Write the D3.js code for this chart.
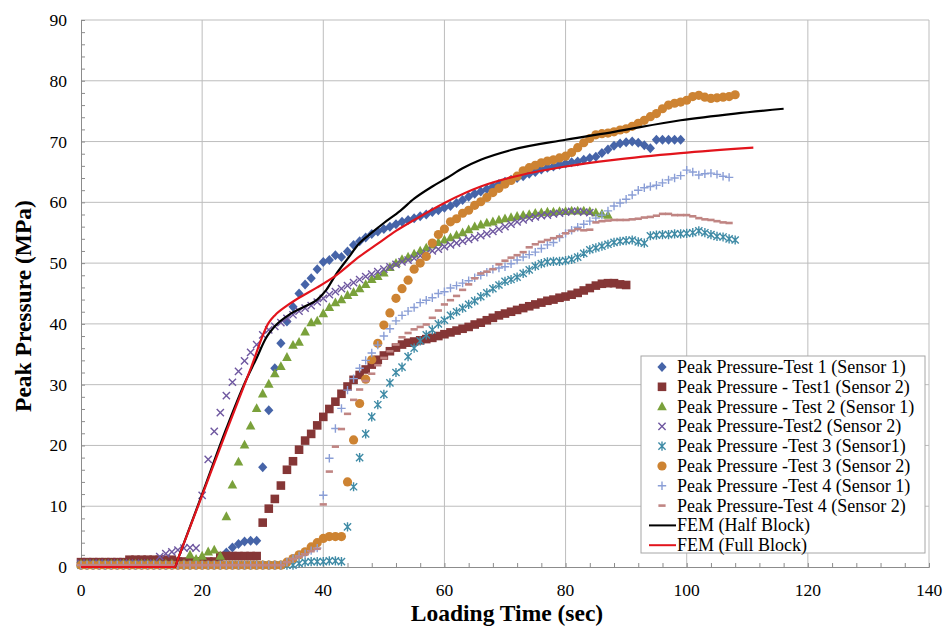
<!DOCTYPE html>
<html lang="en">
<head>
<meta charset="utf-8">
<title>Peak Pressure vs Loading Time</title>
<script src="https://d3js.org/d3.v7.min.js"></script>
<style>
  body { margin: 0; background: #fff; }
  svg { display: block; font-family: "Liberation Serif", "Times New Roman", serif; }
  .grid line { stroke: #bdbdbd; stroke-width: 1; }
  .tick-label { font-size: 17.5px; fill: #000; }
  .axis-title { font-size: 23.5px; font-weight: bold; fill: #000; }
  .legend text { font-size: 18px; fill: #000; }
</style>
</head>
<body>
<svg width="946" height="628"></svg>
<script>
// sampling step of the measured series (sec)
var timeStep = 1;

var xTicks = [0, 20, 40, 60, 80, 100, 120, 140];
var yTicks = [0, 10, 20, 30, 40, 50, 60, 70, 80, 90];

// Peak Pressure-Test 1 (Sensor 1), t = 0..99
var test1Sensor1 = [
  0.7,0.7,0.7,0.7,0.7,0.7,0.7,0.7,0.7,0.7,
  0.7,0.7,0.7,0.7,0.7,0.7,0.7,0.7,0.7,0.7,
  0.7,0.7,0.7,1.5,2.4,3.2,3.8,4.2,4.3,4.3,
  16.4,25.8,32.7,36.8,40.4,42.8,45.0,46.5,47.5,49.0,
  50.2,50.5,51.3,51.0,51.9,53.0,53.6,54.2,54.8,55.2,
  55.6,56.0,56.4,56.8,57.1,57.4,57.7,58.0,58.4,58.7,
  59.1,59.4,59.9,60.4,60.9,61.4,61.8,62.2,62.6,63.0,
  63.4,63.7,64.0,64.3,64.7,65.0,65.4,65.7,65.9,66.2,
  66.4,66.6,66.7,67.0,67.3,67.5,68.1,68.7,69.3,69.7,
  69.9,70.0,69.8,69.4,68.9,70.3,70.3,70.3,70.3,70.3
];

// Peak Pressure - Test1 (Sensor 2), t = 0..90
var test1Sensor2 = [
  0.8,0.8,0.8,0.8,0.8,0.8,0.8,0.8,1.2,1.2,
  1.2,1.2,1.2,1.2,1.2,1.2,0.9,0.9,0.9,0.9,
  0.9,0.9,0.9,1.8,1.8,1.8,1.8,1.8,1.8,1.8,
  7.3,9.6,11.2,13.4,16.0,17.4,19.3,20.8,21.9,23.3,
  24.7,26.0,27.2,28.5,29.7,30.8,31.6,32.5,33.3,34.1,
  34.8,35.5,36.1,36.6,36.9,37.1,37.3,37.5,37.7,38.0,
  38.3,38.6,38.9,39.2,39.5,39.9,40.2,40.6,41.0,41.4,
  41.7,42.0,42.3,42.6,42.9,43.2,43.5,43.8,44.0,44.3,
  44.5,44.8,45.1,45.5,45.9,46.3,46.6,46.7,46.7,46.5,
  46.4
];

// Peak Pressure - Test 2 (Sensor 1), t = 0..87
var test2Sensor1 = [
  0.5,0.5,0.5,0.5,0.5,0.5,0.5,0.5,0.5,0.5,
  0.5,0.5,0.5,0.5,0.5,0.5,0.5,0.5,2.0,1.3,
  1.8,2.5,2.8,1.8,8.3,13.5,17.3,20.1,23.2,26.1,
  28.5,30.1,31.8,33.0,34.5,36.5,37.0,38.7,40.2,40.5,
  41.7,42.7,43.5,44.0,44.7,45.2,45.8,46.5,47.3,47.8,
  48.4,49.3,50.0,50.6,51.0,51.5,52.0,52.5,53.0,53.4,
  53.8,54.2,54.6,55.0,55.5,56.0,56.3,56.6,56.8,57.1,
  57.3,57.5,57.7,57.9,58.0,58.2,58.3,58.4,58.4,58.5,
  58.5,58.6,58.6,58.6,58.5,58.3,58.1,57.9
];

// Peak Pressure-Test2 (Sensor 2), t = 0..84
var test2Sensor2 = [
  0.6,0.6,0.6,0.6,0.6,0.6,0.6,0.6,0.6,0.6,
  0.6,0.6,0.6,1.7,2.2,2.5,2.8,3.1,3.2,3.1,
  11.8,17.7,22.3,25.4,28.2,30.4,32.2,33.9,35.3,36.6,
  38.2,39.0,39.6,40.2,40.9,41.5,42.1,42.6,43.0,43.6,
  44.2,44.8,45.3,45.8,46.3,46.8,47.3,47.8,48.2,48.6,
  49.0,49.4,49.8,50.2,50.5,50.8,51.2,51.6,52.0,52.3,
  52.7,53.0,53.3,53.6,53.9,54.2,54.5,54.8,55.2,55.6,
  56.0,56.4,56.8,57.1,57.4,57.6,57.8,57.9,58.1,58.2,
  58.4,58.5,58.5,58.4,58.3
];

// Peak Pressure -Test 3 (Sensor1), t = 0..108
var test3Sensor1 = [
  0.3,0.3,0.3,0.3,0.3,0.3,0.3,0.3,0.3,0.3,
  0.3,0.3,0.3,0.3,0.3,0.3,0.3,0.3,0.3,0.3,
  0.3,0.3,0.3,0.3,0.3,0.3,0.3,0.3,0.3,0.3,
  0.3,0.3,0.3,0.3,0.3,0.3,0.6,0.8,0.9,0.9,
  0.9,1.0,1.0,0.9,6.6,13.2,18.0,21.9,24.7,26.7,
  28.4,30.3,32.0,32.9,34.6,36.0,37.2,38.2,39.0,40.0,
  40.6,41.4,42.0,42.6,43.2,43.8,44.5,45.1,45.8,46.4,
  47.0,47.3,47.7,48.3,48.9,49.5,49.9,50.2,50.3,50.3,
  50.4,50.6,51.0,51.6,52.2,52.5,52.8,53.1,53.4,53.6,
  53.7,53.8,53.5,53.3,54.5,54.6,54.7,54.7,54.8,54.8,
  54.9,55.0,55.3,55.0,54.7,54.4,54.3,54.0,53.8
];

// Peak Pressure -Test 3 (Sensor 2), t = 0..108
var test3Sensor2 = [
  0.3,0.3,0.3,0.3,0.3,0.3,0.3,0.3,0.3,0.3,
  0.3,0.3,0.3,0.3,0.3,0.3,0.3,0.3,0.3,0.3,
  0.3,0.3,0.3,0.3,0.3,0.3,0.3,0.3,0.3,0.3,
  0.3,0.3,0.3,0.3,0.8,1.4,2.0,2.5,3.3,4.0,
  4.7,5.0,5.0,5.0,14.0,20.9,26.9,30.9,34.1,36.8,
  39.8,41.8,44.2,45.8,47.2,49.0,50.0,51.1,53.3,54.7,
  55.6,56.8,57.3,58.2,58.7,59.5,60.1,60.8,61.6,62.3,
  63.0,63.6,64.3,65.2,65.7,66.1,66.5,66.8,67.0,67.3,
  67.6,68.2,69.0,69.8,70.5,71.1,71.3,71.4,71.6,71.9,
  72.1,72.5,73.0,73.5,74.1,74.6,75.4,76.0,76.3,76.5,
  76.8,77.4,77.6,77.3,77.1,77.2,77.3,77.4,77.7
];

// Peak Pressure -Test 4 (Sensor 1), t = 0..107
var test4Sensor1 = [
  0.3,0.3,0.3,0.3,0.3,0.3,0.3,0.3,0.3,0.3,
  0.3,0.3,0.3,0.3,0.3,0.3,0.3,0.3,0.3,0.3,
  0.3,0.3,0.3,0.3,0.3,0.3,0.3,0.3,0.3,0.3,
  0.3,0.3,0.3,0.3,0.8,1.4,1.8,2.2,2.7,3.1,
  11.8,17.9,22.8,26.1,29.1,31.0,32.7,34.0,35.2,36.5,
  38.0,39.2,40.5,41.4,42.1,42.7,43.5,43.9,44.3,45.0,
  45.3,45.9,46.3,46.7,47.1,47.6,48.0,48.5,49.0,49.2,
  49.4,49.9,50.5,51.0,51.4,51.8,52.4,53.0,53.4,54.2,
  54.9,55.4,55.9,56.4,56.9,57.4,57.9,58.6,59.4,59.9,
  60.5,61.2,62.0,62.4,62.6,62.8,63.2,63.7,64.0,64.4,
  65.3,65.0,64.5,64.7,64.8,64.6,64.3,64.1
];

// Peak Pressure-Test 4 (Sensor 2), t = 0..107
var test4Sensor2 = [
  0.3,0.3,0.3,0.3,0.3,0.3,0.3,0.3,0.3,0.3,
  0.3,0.3,0.3,0.3,0.3,0.3,0.3,0.3,0.3,0.3,
  0.3,0.3,0.3,0.3,0.3,0.3,0.3,0.3,0.3,0.3,
  0.3,0.3,0.3,0.3,0.8,1.3,1.7,2.1,2.6,3.0,
  10.3,15.7,19.8,22.7,25.2,27.5,29.2,30.6,31.8,33.2,
  34.4,35.5,36.6,37.8,38.5,39.1,39.5,39.9,41.0,42.2,
  43.2,43.9,44.6,45.6,46.5,47.5,48.3,48.6,49.0,49.8,
  50.4,50.9,51.3,51.8,52.6,53.1,53.5,53.8,54.1,54.4,
  54.9,55.3,55.6,55.4,55.5,56.7,56.9,57.0,57.1,57.1,
  57.1,57.2,57.3,57.5,57.6,57.8,58.1,58.1,57.9,57.9,
  57.9,57.7,57.4,57.2,57.1,56.9,56.7,56.6
];

// FEM curves: [time, pressure]
var femHalfBlock = [
  [0,0],[15.5,0],[16,1.3],[20,12.0],[24,22.8],[27,30.2],[29,34.4],[30.5,37.6],[32,39.6],
  [34.5,41.6],[37,42.9],[39,44.0],[40.5,45.6],[42,48.0],[44,50.7],[46,53.3],[48,55.0],
  [50,56.6],[52.7,58.6],[55,60.6],[58,62.6],[60.4,64.0],[63,65.6],[66,67.0],[71,68.6],
  [80,70.3],[88,71.6],[99,73.5],[108,74.6],[116,75.4]
];
var femFullBlock = [
  [0,0],[15.5,0],[16,1.3],[20,11.8],[24,22.3],[28,32.6],[31,40.2],[32,41.4],[34,43.0],
  [36,44.3],[39,46.0],[42,47.9],[46,51.1],[49,53.2],[52,55.3],[55,57.1],[60,59.9],
  [66,62.6],[71,64.1],[80,65.9],[88,67.0],[99,68.1],[111,69.0]
];

var svg = d3.select("svg");
var x = d3.scaleLinear().domain([0, 140]).range([81, 929]);
var y = d3.scaleLinear().domain([0, 90]).range([567, 20]);

// grid
var grid = svg.append("g").attr("class", "grid");
grid.selectAll(".gx").data(xTicks.slice(1)).join("line")
    .attr("x1", function(d) { return x(d); }).attr("x2", function(d) { return x(d); })
    .attr("y1", y(0)).attr("y2", y(90));
grid.selectAll(".gy").data(yTicks.slice(1)).join("line")
    .attr("x1", x(0)).attr("x2", x(140))
    .attr("y1", function(d) { return y(d); }).attr("y2", function(d) { return y(d); });

// axes (ticks inside, minor ticks)
var axisX = svg.append("g").attr("transform", "translate(0," + y(0) + ")")
    .call(d3.axisBottom(x).tickValues(d3.range(0, 141, 4)).tickSize(-4).tickFormat(""));
var axisY = svg.append("g").attr("transform", "translate(" + x(0) + ",0)")
    .call(d3.axisLeft(y).tickValues(d3.range(0, 91, 2)).tickSize(-4).tickFormat(""));
[axisX, axisY].forEach(function(a) {
  a.select(".domain").attr("stroke", "#8c8c8c");
  a.selectAll(".tick line").attr("stroke", "#8c8c8c");
});

svg.selectAll(".xl").data(xTicks).join("text")
    .attr("class", "tick-label")
    .attr("x", function(d) { return x(d); })
    .attr("y", 596)
    .attr("text-anchor", "middle")
    .text(function(d) { return d; });
svg.selectAll(".yl").data(yTicks).join("text")
    .attr("class", "tick-label")
    .attr("x", 67)
    .attr("y", function(d) { return y(d) + 6; })
    .attr("text-anchor", "end")
    .text(function(d) { return d; });

svg.append("text").attr("class", "axis-title")
    .attr("x", 507).attr("y", 621).attr("text-anchor", "middle")
    .text("Loading Time (sec)");
svg.append("text").attr("class", "axis-title")
    .attr("transform", "translate(31,306) rotate(-90)")
    .attr("text-anchor", "middle")
    .text("Peak Pressure (MPa)");

// marker shapes
var shapes = {
  diamond:  { d: "M0,-5L4.6,0L0,5L-4.6,0Z", fill: true },
  square:   { d: "M-4.3,-4.3h8.6v8.6h-8.6Z", fill: true },
  triangle: { d: "M0,-5.2L4.8,3.6H-4.8Z", fill: true },
  cross:    { d: "M-3.6,-3.6L3.6,3.6M-3.6,3.6L3.6,-3.6", fill: false },
  star:     { d: "M-3.6,-3.6L3.6,3.6M-3.6,3.6L3.6,-3.6M0,-4.6V4.6", fill: false },
  circle:   { d: "M4.6,0A4.6,4.6 0 1,1 -4.6,0A4.6,4.6 0 1,1 4.6,0Z", fill: true },
  plus:     { d: "M-4.2,0H4.2M0,-4.2V4.2", fill: false },
  dash:     { d: "M-3.6,-1.3h7.2v2.6h-7.2Z", fill: true }
};

var seriesList = [
  { name: "Peak Pressure-Test 1 (Sensor 1)",         values: test1Sensor1, shape: "diamond",  color: "#4664a8" },
  { name: "Peak Pressure - Test1 (Sensor 2)",        values: test1Sensor2, shape: "square",   color: "#853636" },
  { name: "Peak Pressure - Test 2 (Sensor 1)",       values: test2Sensor1, shape: "triangle", color: "#7aa13b" },
  { name: "Peak Pressure-Test2 (Sensor 2)",          values: test2Sensor2, shape: "cross",    color: "#6f58a0" },
  { name: "Peak Pressure -Test 3 (Sensor1)",         values: test3Sensor1, shape: "star",     color: "#3f8ba6" },
  { name: "Peak Pressure -Test 3 (Sensor 2)",        values: test3Sensor2, shape: "circle",   color: "#cd8332" },
  { name: "Peak Pressure -Test 4 (Sensor 1)",        values: test4Sensor1, shape: "plus",     color: "#8a9ed6" },
  { name: "Peak Pressure-Test 4 (Sensor 2)",         values: test4Sensor2, shape: "dash",     color: "#c08583" }
];

function styleMarker(sel, s) {
  var sh = shapes[s.shape];
  sel.attr("d", sh.d)
     .attr("fill", sh.fill ? s.color : "none")
     .attr("stroke", sh.fill ? "none" : s.color)
     .attr("stroke-width", sh.fill ? 0 : 1.4);
}

var plot = svg.append("g");
seriesList.forEach(function(s) {
  var pts = s.values.map(function(v, i) { return [i * timeStep, v]; });
  plot.append("g").selectAll("path").data(pts).join("path")
      .attr("transform", function(d) { return "translate(" + x(d[0]) + "," + y(d[1]) + ")"; })
      .call(styleMarker, s);
});

var line = d3.line()
    .curve(d3.curveMonotoneX)
    .x(function(d) { return x(d[0]); })
    .y(function(d) { return y(d[1]); });

var femLines = [
  { name: "FEM (Half Block)", values: femHalfBlock, color: "#000000" },
  { name: "FEM (Full Block)", values: femFullBlock, color: "#e2141c" }
];
femLines.forEach(function(f) {
  plot.append("path")
      .attr("d", line(f.values))
      .attr("fill", "none")
      .attr("stroke", f.color)
      .attr("stroke-width", 2.2);
});

// legend
var legend = svg.append("g").attr("class", "legend");
legend.append("rect")
    .attr("x", 641).attr("y", 356).attr("width", 284).attr("height", 197)
    .attr("fill", "#fff").attr("stroke", "#a6a6a6");

var rowY = function(i) { return 367 + i * 19.8; };
seriesList.forEach(function(s, i) {
  legend.append("path")
      .attr("transform", "translate(662," + rowY(i) + ")")
      .call(styleMarker, s);
  legend.append("text").attr("x", 677).attr("y", rowY(i) + 6).text(s.name);
});
femLines.forEach(function(f, j) {
  var i = seriesList.length + j;
  legend.append("line")
      .attr("x1", 649).attr("x2", 676).attr("y1", rowY(i)).attr("y2", rowY(i))
      .attr("stroke", f.color).attr("stroke-width", 2);
  legend.append("text").attr("x", 677).attr("y", rowY(i) + 6).text(f.name);
});
</script>
</body>
</html>
